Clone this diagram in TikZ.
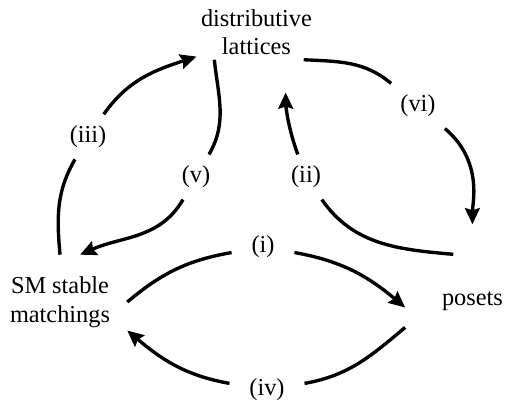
\documentclass[tikz,border=0pt]{standalone}
\usepackage{fontspec}
\setmainfont{Liberation Serif}
\usepackage{tikz}
\usetikzlibrary{arrows.meta}

\begin{document}
\begin{tikzpicture}[
  concept/.style={
    align=center, inner sep=3pt,
    font=\fontsize{17.3}{20.3}\selectfont
  },
  sideconcept/.style={
    concept, minimum width=3.35cm, minimum height=2.35cm
  },
  lbl/.style={
    inner xsep=14pt, inner ysep=8pt,
    font=\fontsize{17.3}{20.3}\selectfont
  },
  arr/.style={-{Stealth[length=11.5pt, width=10.5pt, inset=1.5pt]}, line width=2.4pt},
]
\useasboundingbox (0,0) rectangle (12.625,-10);

% Objects
\node[concept] (dl) at (6.41, -0.81) {distributive\\lattices};
\node[sideconcept] (sm) at (1.5, -7.55) {SM stable\\matchings};
\node[sideconcept] (po) at (11.81, -7.54) {posets};

% Labels of the maps
\node[lbl] (i)   at (6.575, -6.175) {(i)};
\node[lbl] (ii)  at (7.65, -4.425)  {(ii)};
\node[lbl] (iii) at (2.2, -3.42)    {(iii)};
\node[lbl] (iv)  at (6.675, -9.75)  {(iv)};
\node[lbl] (v)   at (4.9, -4.425)   {(v)};
\node[lbl] (vi)  at (10.45, -2.65)  {(vi)};

% Maps
\draw[arr] (sm.east) to[out=40, in=190] (i) to[out=-10, in=140] (po.185);
\draw[arr, shorten >=0.82cm] (po.112) to[out=175, in=-55] (ii) to[out=110, in=-90] (dl.-43);
\draw[arr] (sm.north) to[out=95, in=-120] (iii) to[out=55, in=198] (dl.202);
\draw[arr] (po.201) to[out=220, in=10] (iv) to[out=170, in=-40] (sm.-23);
\draw[arr] (dl.213) to[out=-84, in=60] (v) to[out=-120, in=24] (sm.67);
\draw[arr, shorten >=0.75cm] (dl.-30) to[out=-3, in=140] (vi) to[out=-40, in=90] (po.north);

\end{tikzpicture}
\end{document}
